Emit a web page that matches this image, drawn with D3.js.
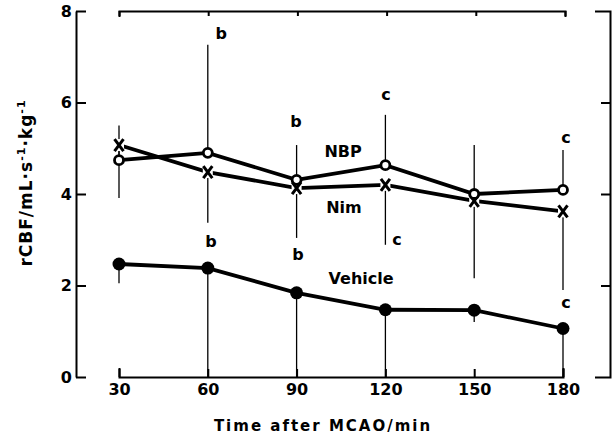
<!DOCTYPE html>
<html>
<head>
<meta charset="utf-8">
<script src="https://cdn.jsdelivr.net/npm/d3@7"></script>
<style>
  body { margin: 0; background: #fff; }
  svg { display: block; font-family: "DejaVu Sans", sans-serif; font-weight: bold; }
  .axis path, .axis line { stroke: #000; stroke-width: 2; fill: none; }
  .axis text { font-size: 16px; font-weight: bold; fill: #000; font-family: "DejaVu Sans", sans-serif; }
  .series { fill: none; stroke: #000; stroke-width: 3.8; }
  .err { stroke: #000; stroke-width: 1.3; }
</style>
</head>
<body>
<svg id="chart" width="612" height="442"></svg>
<script>
// time points (min after MCAO)
var times = [30, 60, 90, 120, 150, 180];

// rCBF values
var vehicle = [2.47, 2.38, 1.84, 1.47, 1.46, 1.06];
var nbp     = [4.74, 4.90, 4.31, 4.63, 4.00, 4.09];
var nim     = [5.07, 4.48, 4.13, 4.20, 3.85, 3.62];

// error bar ends (one-sided as drawn)
var nbpUpper     = [5.50, 7.26, 5.07, 5.73, 5.07, 4.96];
var nimLower     = [3.91, 3.37, 3.04, 2.89, 2.16, 1.90];
var vehicleLower = [2.05, 0.00, 0.00, 0.00, 1.20, 0.00];

var yTicks = [0, 2, 4, 6, 8];

// significance letters and series names
var noteText  = ["b", "b", "b", "b", "c", "c", "c", "c", "NBP", "Nim", "Vehicle"];
var noteTime  = [64.5, 61.1, 89.8, 90.5, 120.2, 123.9, 181, 181, 105.7, 106, 111.8];
var noteValue = [7.39, 2.84, 5.46, 2.56, 6.05, 2.89, 5.11, 1.51, 4.81, 3.58, 2.03];

var svg = d3.select("#chart");

var x = d3.scaleLinear().domain([30, 180]).range([119, 563]);
var y = d3.scaleLinear().domain([0, 8]).range([377, 11]);

// left axis
svg.append("g")
    .attr("class", "axis")
    .attr("transform", "translate(76,0)")
    .call(d3.axisLeft(y).tickValues(yTicks).tickSizeInner(-10).tickSizeOuter(0).tickPadding(4));

// bottom axis, ticks pointing up
svg.append("g")
    .attr("class", "axis")
    .attr("transform", "translate(0,377)")
    .call(d3.axisBottom(x).tickValues(times).tickSizeInner(-8).tickSizeOuter(-9).tickPadding(7));

// top frame
svg.append("g")
    .attr("class", "axis")
    .attr("transform", "translate(0,11)")
    .call(d3.axisTop(d3.scaleLinear().domain([30, 180]).range([119, 565]))
        .tickValues(times).tickSizeInner(-5).tickSizeOuter(-6).tickFormat(""));

// right frame
svg.append("g")
    .attr("class", "axis")
    .attr("transform", "translate(610,0)")
    .call(d3.axisRight(y).tickValues([2, 4, 6]).tickSizeInner(-9).tickSizeOuter(-15).tickFormat(""));

// axis titles
svg.append("text")
    .attr("x", 323).attr("y", 431)
    .attr("text-anchor", "middle")
    .style("font-size", "15px")
    .style("letter-spacing", "2px")
    .text("Time after MCAO/min");

var yl = svg.append("text")
    .attr("transform", "translate(32,183) rotate(-90)")
    .attr("text-anchor", "middle")
    .style("font-size", "17px")
    .style("letter-spacing", "1px");
yl.append("tspan").text("rCBF/mL\u00b7s");
yl.append("tspan").attr("dy", -7).style("font-size", "11px").text("-1");
yl.append("tspan").attr("dy", 7).text("\u00b7kg");
yl.append("tspan").attr("dy", -7).style("font-size", "11px").text("-1");

// error bars
function bars(vals, ends) {
    svg.append("g").selectAll("line")
        .data(times)
        .join("line")
        .attr("class", "err")
        .attr("x1", function(d) { return x(d); })
        .attr("x2", function(d) { return x(d); })
        .attr("y1", function(d, i) { return y(vals[i]); })
        .attr("y2", function(d, i) { return y(ends[i]); });
}
bars(nbp, nbpUpper);
bars(nim, nimLower);
bars(vehicle, vehicleLower);

// lines
var line = d3.line()
    .x(function(d) { return x(d[0]); })
    .y(function(d) { return y(d[1]); });

[vehicle, nim, nbp].forEach(function(s) {
    svg.append("path")
        .attr("class", "series")
        .attr("d", line(d3.zip(times, s)));
});

// vehicle: filled circles
svg.append("g").selectAll("circle")
    .data(d3.zip(times, vehicle))
    .join("circle")
    .attr("cx", function(d) { return x(d[0]); })
    .attr("cy", function(d) { return y(d[1]); })
    .attr("r", 6.5)
    .attr("fill", "#000");

// nim: x marks
var nimG = svg.append("g").selectAll("g")
    .data(d3.zip(times, nim))
    .join("g")
    .attr("transform", function(d) { return "translate(" + x(d[0]) + "," + y(d[1]) + ")"; });
nimG.append("rect").attr("x", -5).attr("y", -6).attr("width", 10).attr("height", 12).attr("fill", "#fff");
nimG.append("path")
    .attr("d", "M-4.5,-6L4.5,6M4.5,-6L-4.5,6")
    .attr("stroke", "#000")
    .attr("stroke-width", 3);

// nbp: open circles
svg.append("g").selectAll("circle")
    .data(d3.zip(times, nbp))
    .join("circle")
    .attr("cx", function(d) { return x(d[0]); })
    .attr("cy", function(d) { return y(d[1]); })
    .attr("r", 4.5)
    .attr("fill", "#fff")
    .attr("stroke", "#000")
    .attr("stroke-width", 2.8);

// annotations
svg.append("g").selectAll("text")
    .data(noteText)
    .join("text")
    .attr("x", function(d, i) { return x(noteTime[i]); })
    .attr("y", function(d, i) { return y(noteValue[i]); })
    .attr("text-anchor", "middle")
    .style("font-size", "16px")
    .text(function(d) { return d; });
</script>
</body>
</html>
